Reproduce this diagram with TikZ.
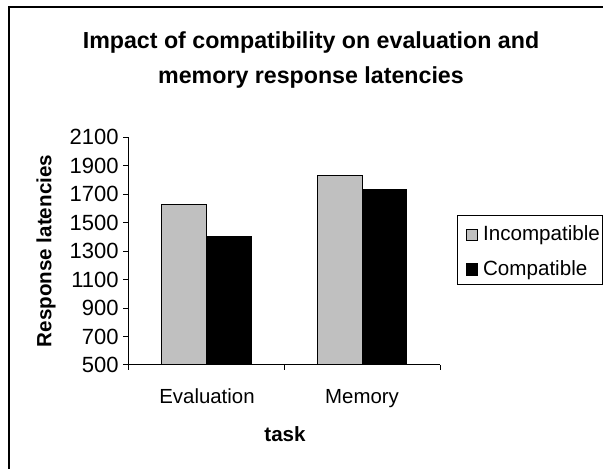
\documentclass[tikz,border=0pt]{standalone}
\usepackage{fontspec}
\setmainfont{Liberation Sans}
\usetikzlibrary{positioning}
\definecolor{incgray}{RGB}{192,192,192}
\begin{document}
\begin{tikzpicture}[x=0.5pt, y=0.0712pt,
    bar/.style={draw=black, line width=0.5pt},
    axisline/.style={line width=0.5pt},
    ticklabel/.style={anchor=east, inner sep=0pt, font=\fontsize{11}{13}\selectfont},
    catlabel/.style={anchor=base, inner sep=0pt, font=\fontsize{10.2}{12}\selectfont},
    axistitle/.style={inner sep=0pt, font=\fontsize{10.3}{12}\selectfont\bfseries},
    keybox/.style={draw=black, line width=0.5pt, minimum size=5.8pt, inner sep=0pt},
    keytext/.style={inner sep=0pt, font=\fontsize{10.3}{12}\selectfont}]

        % Canvas and chart frame
        \useasboundingbox (0,-230) rectangle (603,3063);
        \draw[line width=1pt] (9,-230) -- (9,3014) -- (603,3014);

        % Title
        \node[align=center, font=\fontsize{11.6}{17.5}\selectfont\bfseries] (title) at (311,2643)
            {Impact of compatibility on evaluation and\\memory response latencies};

        % Axes
        \draw[axisline] (128,2100) -- (128,500) -- (440,500);
        \foreach \v in {500,700,...,2100} {
            \draw[axisline] (123,\v) -- (128,\v);
            \node[ticklabel] (tick\v) at (119,\v) {\v};
        }
        \foreach \x in {128,284,440}
            \draw[axisline] (\x,500) -- (\x,465);

        % Bars: Evaluation
        \draw[bar, fill=incgray] (161.5,500) rectangle (206.5,1628);
        \draw[bar, fill=black] (206.5,500) rectangle (251,1400);

        % Bars: Memory
        \draw[bar, fill=incgray] (317,500) rectangle (362,1834);
        \draw[bar, fill=black] (362,500) rectangle (406.5,1734);

        % Category and axis labels
        \node[catlabel] (evalcat) at (207,226) {Evaluation};
        \node[catlabel] (memcat) at (362,226) {Memory};
        \node[axistitle, anchor=base] (xtitle) at (285,-39) {task};
        \node[axistitle, rotate=90] (ytitle) at (46,1300) {Response latencies};

        % Legend
        \draw[line width=0.5pt] (457.7,1067) rectangle (602,1548);
        \node[keybox, fill=incgray] (keyinc) at (472,1413) {};
        \node[keytext, right=2.2pt of keyinc] (txtinc) {Incompatible};
        \node[keybox, fill=black] (keycomp) at (472,1169) {};
        \node[keytext, right=2.2pt of keycomp] (txtcomp) {Compatible};

    \end{tikzpicture}
\end{document}
